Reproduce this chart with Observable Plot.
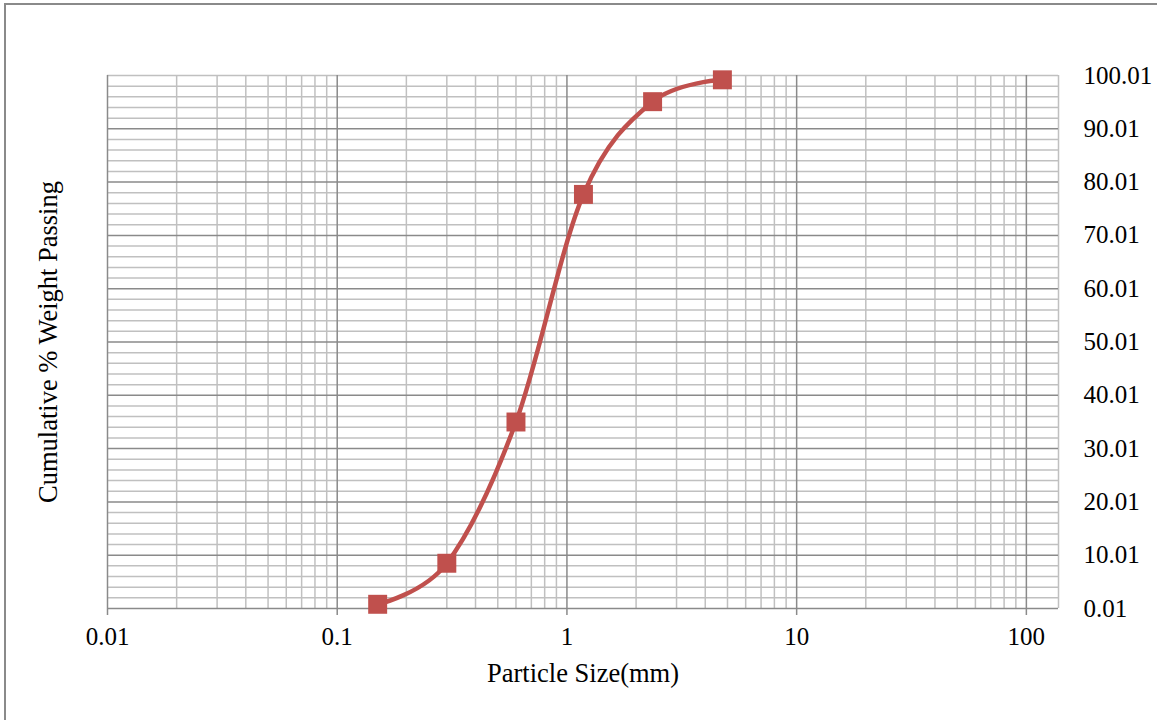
<!DOCTYPE html>
<html>
<head>
<meta charset="utf-8">
<script src="https://cdn.jsdelivr.net/npm/d3@7"></script>
<script src="https://cdn.jsdelivr.net/npm/@observablehq/plot@0.6"></script>
<style>
  html, body { margin: 0; padding: 0; background: #fff; }
  #wrap { position: relative; width: 1157px; height: 720px; overflow: hidden; }
  #border {
    position: absolute; left: 4px; top: 3px; width: 1170px; height: 730px;
    border-left: 2px solid #8a8a8a; border-top: 2px solid #8a8a8a;
    pointer-events: none;
  }
  svg { display: block; }
</style>
</head>
<body>
<div id="wrap"><div id="border"></div></div>
<script>
// Sieve analysis: cumulative percentage passing per sieve size (mm)
const sieveSizes = [0.15, 0.3, 0.6, 1.18, 2.36, 4.75];
const percentPassing = [0.8, 8.5, 35.0, 77.7, 95.1, 99.2];

// Axis ticks
const xTicks = [0.01, 0.1, 1, 10, 100];
const yTicks = [0.01, 10.01, 20.01, 30.01, 40.01, 50.01, 60.01, 70.01, 80.01, 90.01, 100.01];

// Gridline positions: 2..9 within each decade, every 2 % on y
const xMinor = [];
for (const d of [0.01, 0.1, 1, 10]) for (let k = 2; k <= 9; k++) xMinor.push(+(d * k).toPrecision(3));
const yMinor = [];
for (let v = 2; v < 100; v += 2) if (v % 10 !== 0) yMinor.push(v + 0.01);

const data = sieveSizes.map((s, i) => ({size: s, passing: percentPassing[i]}));

const red = "#C0504D";
const font = "'Liberation Serif', 'Times New Roman', serif";

const chart = Plot.plot({
  width: 1157,
  height: 720,
  marginLeft: 107,
  marginRight: 99,
  marginTop: 75,
  marginBottom: 112,
  style: {fontFamily: font, fontSize: "25px", color: "#000", background: "transparent"},
  x: {type: "log", domain: [0.01, 138]},
  y: {domain: [0.01, 100.01]},
  marks: [
    Plot.ruleX(xMinor, {stroke: "#c0c0c0", strokeWidth: 1.5}),
    Plot.ruleY(yMinor, {stroke: "#c0c0c0", strokeWidth: 1.5}),
    Plot.ruleY([100.01], {stroke: "#c0c0c0", strokeWidth: 1.5}),
    Plot.ruleX([138], {stroke: "#c0c0c0", strokeWidth: 1.5}),
    Plot.ruleY(yTicks.slice(0, -1), {stroke: "#8a8a8a", strokeWidth: 1.5}),
    Plot.ruleX(xTicks, {stroke: "#8a8a8a", strokeWidth: 1.5}),
    Plot.axisX({
      ticks: xTicks, tickFormat: d => String(d), tickSize: 7, tickPadding: 12,
      stroke: "#8a8a8a", strokeWidth: 1.5, label: null, fontSize: 25
    }),
    Plot.axisY({
      anchor: "right", ticks: yTicks, tickFormat: d => d.toFixed(2),
      tickSize: 0, tickPadding: 25, label: null, fontSize: 25
    }),
    Plot.text(["Particle Size(mm)"], {frameAnchor: "bottom", dy: 73, fontSize: 26.5}),
    Plot.text(["Cumulative % Weight Passing"], {
      frameAnchor: "left", textAnchor: "middle", dx: -59, rotate: -90, fontSize: 26.5
    }),
    Plot.line(data, {x: "size", y: "passing", stroke: red, strokeWidth: 4.5, curve: "catmull-rom", tension: 0}),
    Plot.dot(data, {x: "size", y: "passing", symbol: "square", r: 10.7, fill: red, stroke: "none"})
  ]
});

document.getElementById("wrap").prepend(chart);
</script>
</body>
</html>
